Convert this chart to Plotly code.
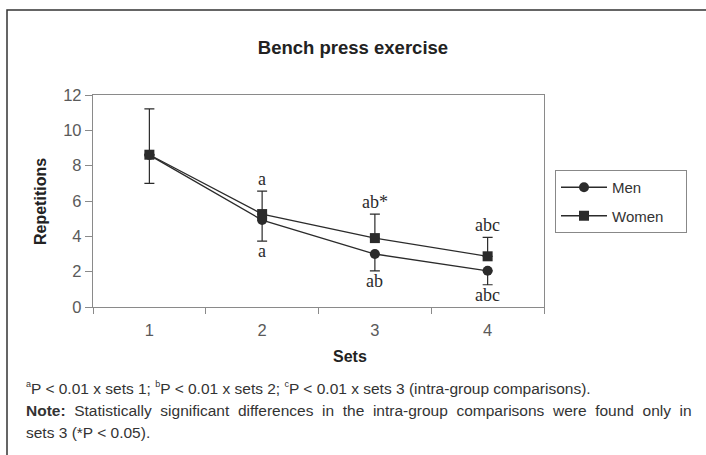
import plotly.graph_objects as go

sets = ["1", "2", "3", "4"]
men = [8.6, 4.92, 3.0, 2.05]
women = [8.62, 5.26, 3.9, 2.87]
men_err_minus = [1.6, 1.19, 0.96, 0.79]
women_err_plus = [2.6, 1.3, 1.36, 1.07]
upper_labels = ["", "a", "ab*", "abc"]
lower_labels = ["", "a", "ab", "abc"]
y_ticks = [0, 2, 4, 6, 8, 10, 12]

L, R, T, B = 93, 162, 95, 148
W, H = 706, 455
pw, ph = W - L - R, H - T - B

def px(x):
    return (x - L) / pw

def py(y):
    return (H - B - y) / ph

dark = "#2b2b2b"
axis_col = "#8a8a8a"
sans = "Liberation Sans, Arial, sans-serif"
serif = "Liberation Serif, Times New Roman, serif"
pad = "&nbsp;" * 4

fig = go.Figure()
fig.add_trace(go.Scatter(
    x=sets, y=men, name="Men", mode="lines+markers", legendgroup="m",
    line=dict(color=dark, width=1.3),
    marker=dict(symbol="circle", size=10, color=dark),
    error_y=dict(type="data", symmetric=False, array=[0] * 4, arrayminus=men_err_minus,
                 color=dark, thickness=1.2, width=5),
))
fig.add_trace(go.Scatter(
    x=sets, y=women, name="Women" + pad, mode="lines+markers", legendgroup="w",
    line=dict(color=dark, width=1.3),
    marker=dict(symbol="square", size=10, color=dark),
    error_y=dict(type="data", symmetric=False, array=women_err_plus, arrayminus=[0] * 4,
                 color=dark, thickness=1.2, width=5),
))

ann = []
for i, s in enumerate(sets):
    if upper_labels[i]:
        ann.append(dict(x=i, y=women[i] + women_err_plus[i], xref="x", yref="y",
                        text=upper_labels[i], showarrow=False, yanchor="bottom", yshift=0,
                        font=dict(family=serif, size=18, color=dark)))
    if lower_labels[i]:
        ann.append(dict(x=i, y=men[i] - men_err_minus[i], xref="x", yref="y",
                        text=lower_labels[i], showarrow=False, yanchor="top", yshift=2,
                        font=dict(family=serif, size=18, color=dark)))

ann.append(dict(x=px(40), y=py(202), xref="paper", yref="paper", text="<b>Repetitions</b>",
                textangle=-90, showarrow=False, xanchor="center", yanchor="middle",
                font=dict(family=sans, size=16, color="#222")))
ann.append(dict(x=px(350), y=py(356), xref="paper", yref="paper", text="<b>Sets</b>",
                showarrow=False, xanchor="center", yanchor="middle",
                font=dict(family=sans, size=16, color="#222")))

def sup(c):
    return "<sup><span style='font-size:9px'>" + c + "</span></sup>"

sp = " &nbsp;"
foot = [
    sup("a") + "P &lt; 0.01 x sets 1; " + sup("b") + "P &lt; 0.01 x sets 2; " + sup("c")
    + "P &lt; 0.01 x sets 3 (intra-group comparisons).",
    "<b>Note:</b> Statistically significant differences in the intra-group comparisons were found only in".replace(" ", sp),
    "sets 3 (*P &lt; 0.05).",
]
for t, yy in zip(foot, [388, 410, 432]):
    ann.append(dict(x=px(24), y=py(yy), xref="paper", yref="paper", text=t,
                    showarrow=False, xanchor="left", yanchor="middle",
                    font=dict(family=sans, size=15.5, color="#333")))

fig.update_layout(
    width=W, height=H,
    margin=dict(l=L, r=R, t=T, b=B),
    paper_bgcolor="white", plot_bgcolor="white",
    title=dict(text="<b>Bench press exercise</b>", x=0.5, xanchor="center",
               y=1 - 48 / H, yanchor="middle", font=dict(family=sans, size=18.5, color="#222")),
    xaxis=dict(type="category", range=[-0.5, 3.5], tickson="boundaries", ticks="outside",
               ticklen=6, tickcolor=axis_col, showline=True, linecolor=axis_col, linewidth=1.3,
               mirror=True, showgrid=False, zeroline=False, ticklabelstandoff=8,
               tickfont=dict(family=sans, size=16.5, color="#5a5a5a")),
    yaxis=dict(range=[0, 12], tickvals=y_ticks, ticks="outside", ticklen=7, tickcolor=axis_col,
               showline=True, linecolor=axis_col, linewidth=1.3, mirror=True, showgrid=False,
               zeroline=False, tickfont=dict(family=sans, size=16.5, color="#5a5a5a")),
    legend=dict(x=px(555), y=py(170), xanchor="left", yanchor="top",
                bordercolor="#888", borderwidth=1, bgcolor="white",
                traceorder="grouped", tracegroupgap=6, itemwidth=46,
                font=dict(family=sans, size=15, color="#333")),
    annotations=ann,
    shapes=[dict(type="rect", xref="paper", yref="paper",
                 x0=px(7), x1=px(720), y0=py(470), y1=py(10),
                 line=dict(color="#333", width=1.5))],
)

fig.write_html("out.html")
